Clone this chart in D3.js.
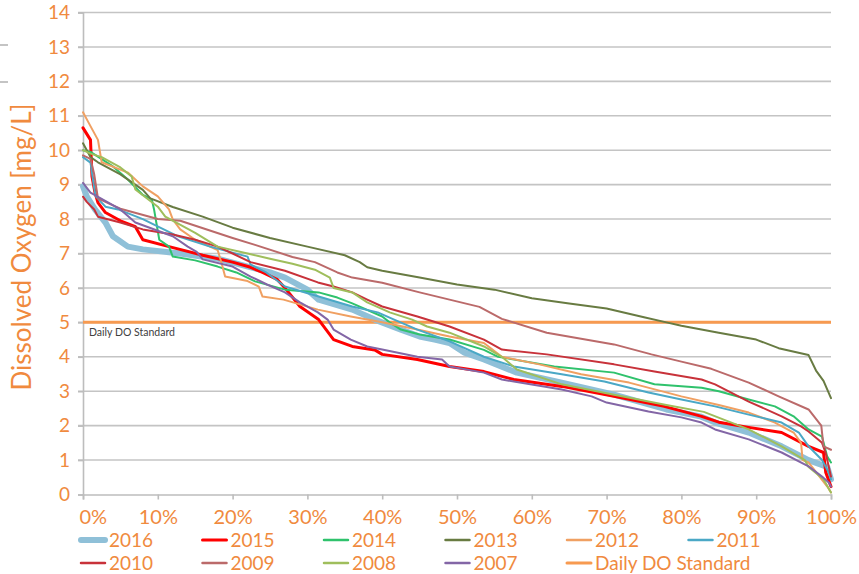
<!DOCTYPE html>
<html>
<head>
<meta charset="utf-8">
<script src="https://cdn.jsdelivr.net/npm/d3@7"></script>
<style>
  body { margin: 0; background: #fff; }
  svg { display: block; font-family: Lato, "Open Sans", sans-serif; }
</style>
</head>
<body>
<svg id="chart"></svg>
<script>
// series names, in legend order
var years = ["2016", "2015", "2014", "2013", "2012", "2011", "2010", "2009", "2008", "2007"];

// [exceedance %, DO mg/L]
var s2016 = [[0,8.95],[0.5,8.66],[1.6,8.28],[3,7.9],[4,7.5],[6,7.2],[8,7.12],[13,7.0],[18,6.85],[25,6.45],[27,6.3],[30,5.95],[31.5,5.66],[36,5.37],[39,5.08],[42.5,4.79],[45,4.59],[47,4.5],[49,4.4],[51,4.12],[53.6,3.92],[58,3.54],[64,3.25],[71,2.9],[78,2.47],[82.5,2.27],[84.5,2.09],[89,1.8],[93.4,1.4],[97,1.0],[99.5,0.8],[100,0.44]];
var s2015 = [[0,10.65],[1,10.3],[1.2,9.24],[1.6,8.77],[2,8.48],[3,8.19],[5,7.95],[7,7.78],[8,7.4],[11.5,7.2],[16,6.95],[20,6.75],[22.4,6.6],[24,6.45],[26,6.24],[27,6.0],[29,5.46],[31.5,5.08],[32.5,4.79],[33.5,4.5],[36,4.3],[39,4.2],[40,4.07],[44.7,3.92],[49,3.72],[53.6,3.57],[57.6,3.34],[64,3.14],[71,2.85],[77.7,2.56],[82.7,2.27],[85,2.1],[89,1.95],[93.4,1.8],[97,1.4],[99,1.22],[99.3,0.64],[100,0.23]];
var s2014 = [[0,10.0],[1,9.95],[4,9.53],[6,9.15],[8,8.7],[9.2,8.57],[9.5,8.28],[9.8,7.9],[10.2,7.4],[11.5,7.2],[12,6.91],[15,6.8],[18,6.62],[20.5,6.45],[23,6.19],[27,5.95],[31.5,5.87],[34,5.72],[36,5.55],[40,5.17],[41,5.0],[42.5,4.79],[45,4.65],[49,4.5],[53.6,4.2],[55.5,4.0],[63,3.72],[71,3.54],[76.4,3.2],[82.7,3.1],[85,3.0],[89,2.76],[92.5,2.56],[95,2.27],[97,1.89],[98.8,1.68],[99.5,1.1],[100,0.93]];
var s2013 = [[0,10.2],[1,9.8],[2,9.65],[5,9.3],[8,8.85],[9,8.6],[12,8.35],[16,8.07],[20,7.75],[25,7.45],[30,7.2],[35,6.95],[37,6.75],[38,6.6],[40,6.5],[45,6.3],[50,6.1],[55,5.95],[60,5.7],[65,5.55],[70,5.4],[75,5.15],[78,5.0],[80,4.9],[85,4.7],[90,4.5],[93,4.25],[97,4.05],[98,3.6],[99,3.3],[100,2.8]];
var s2012 = [[0,11.1],[1,10.7],[2,10.3],[2.5,9.65],[6,9.35],[8,8.95],[10,8.66],[11.5,8.28],[12,7.99],[13,7.7],[15,7.4],[18,7.1],[18.5,6.74],[19,6.33],[22,6.2],[23.5,6.04],[24,5.75],[26.8,5.66],[31.4,5.37],[35.8,5.17],[40,5.0],[44.7,4.79],[49,4.59],[53.6,4.4],[56,4.0],[61,3.78],[66.6,3.49],[73,3.25],[80,2.85],[85,2.6],[89,2.38],[92.5,2.09],[95,1.8],[96,1.5],[96.2,1.0],[97,0.93],[99.5,0.23],[100,0.06]];
var s2011 = [[0,9.8],[1,9.64],[1.5,8.9],[1.7,8.66],[3,8.36],[4.7,8.28],[8,8.0],[12.7,7.5],[17,7.2],[22,6.91],[22.4,6.68],[24.5,6.45],[27,6.04],[31.5,5.75],[36,5.46],[39.4,5.29],[41.6,5.08],[44.7,4.79],[49,4.45],[53.6,4.0],[57.6,3.72],[64,3.49],[69.7,3.28],[75.6,2.96],[80,2.76],[84.5,2.56],[89,2.32],[93.4,2.09],[95.7,1.8],[97,1.4],[98.8,1.0],[99.7,0.64],[100,0.44]];
var s2010 = [[0,8.65],[0.5,8.5],[1.5,8.28],[2,8.07],[5,7.9],[8,7.7],[12,7.55],[15,7.4],[18,7.2],[20,7.0],[22.4,6.75],[27,6.5],[31.4,6.16],[33.5,6.04],[36,5.87],[38,5.66],[40,5.46],[44.7,5.17],[49,4.88],[53.6,4.5],[56,4.21],[62,4.07],[71,3.78],[76.4,3.57],[82.7,3.34],[84.5,3.2],[89,2.7],[93.4,2.27],[96,1.98],[97,1.83],[98.8,1.5],[99.3,1.2],[100,0.52]];
var s2009 = [[0,9.85],[1,9.75],[1.5,9.3],[2,8.6],[4,8.4],[5,8.3],[10,8.0],[13,7.95],[20,7.45],[23,7.25],[28,6.9],[31,6.75],[34,6.45],[36,6.3],[40,6.15],[45,5.87],[49,5.66],[53,5.45],[56,5.1],[62,4.7],[71,4.36],[76,4.07],[80,3.86],[84,3.65],[89,3.25],[93,2.85],[97,2.47],[98.7,2.0],[99,1.4],[100,1.3]];
var s2008 = [[0,10.0],[1,9.9],[2.5,9.8],[5,9.5],[6.5,9.24],[7,8.86],[10,8.36],[11,8.07],[15,7.6],[18,7.2],[22,7.0],[25,6.85],[28,6.7],[31,6.53],[33,6.3],[33.5,6.0],[36,5.87],[38,5.58],[41,5.29],[44,5.08],[46,4.88],[49,4.7],[53.6,4.3],[56,4.0],[58,3.63],[64,3.2],[71,2.9],[78,2.6],[83,2.4],[89,1.89],[93.4,1.4],[96.5,1.0],[97,0.8],[99,0.44],[100,0.06]];
var s2007 = [[0,9.05],[1,8.77],[5,8.28],[7,7.9],[12,7.5],[14,7.2],[15.2,7.05],[16,6.83],[20,6.62],[22.4,6.33],[24.6,6.1],[27,5.87],[29,5.58],[31.4,5.29],[32.7,5.08],[33.5,4.79],[35.8,4.5],[38,4.3],[40,4.21],[44.7,4.0],[48,3.92],[49,3.72],[53.6,3.54],[56,3.34],[57.6,3.28],[64,3.05],[68,2.85],[70,2.67],[75.6,2.41],[80,2.24],[82.7,2.09],[84.5,1.89],[89,1.6],[93.4,1.22],[97,0.82],[98.8,0.52],[99.7,0.35],[100,0.23]];
var seriesData = [s2016, s2015, s2014, s2013, s2012, s2011, s2010, s2009, s2008, s2007];

var standardName = "Daily DO Standard";
var standardValue = 5;

var yTicks = [0,1,2,3,4,5,6,7,8,9,10,11,12,13,14];
var xTicks = [0,10,20,30,40,50,60,70,80,90,100];

// styles
var colors = ["#8fc0d8", "#ff0000", "#2fc26c", "#687b42", "#f0a062", "#4aa8c6", "#c8323a", "#bb6a6a", "#9fbe5c", "#8366a6"];
var widths = [6, 3, 2, 2, 2, 2, 2, 2, 2, 2];
var orange = "#f08a3e";
var stdColor = "#f79a50";

var W = 859, H = 574;
var svg = d3.select("#chart").attr("width", W).attr("height", H);

var x = d3.scaleLinear().domain([0, 100]).range([83, 831]);
var y = d3.scaleLinear().domain([0, 14]).range([494.5, 12.5]);

// stray marks at the left edge of the crop
svg.selectAll(".stray").data([45, 82]).enter().append("line")
  .attr("x1", 0).attr("x2", 8).attr("y1", function(d) { return d; }).attr("y2", function(d) { return d; })
  .attr("stroke", "#b0b0b0").attr("stroke-width", 1.5);

// gridlines
svg.append("g").selectAll("line").data(yTicks.slice(1)).enter().append("line")
  .attr("x1", 78).attr("x2", x(100))
  .attr("y1", function(d) { return y(d); }).attr("y2", function(d) { return y(d); })
  .attr("stroke", "#c4c4c4").attr("stroke-width", 1.6);

// axes
var yAxis = svg.append("g").attr("transform", "translate(" + x(0) + ",0)")
  .call(d3.axisLeft(y).tickValues(yTicks).tickSize(5).tickPadding(8).tickFormat(d3.format("d")));
var xAxis = svg.append("g").attr("transform", "translate(0," + y(0) + ")")
  .call(d3.axisBottom(x).tickValues(xTicks).tickSize(5).tickPadding(10).tickFormat(function(d) { return d + "%"; }));

[yAxis, xAxis].forEach(function(a) {
  a.select(".domain").attr("stroke", "#bdbdbd").attr("stroke-width", 1.6);
  a.selectAll(".tick line").attr("stroke", "#bdbdbd").attr("stroke-width", 1.6);
  a.selectAll("text").attr("fill", orange).style("font-family", "Lato, sans-serif");
});
yAxis.selectAll("text").style("font-size", "19px");
xAxis.selectAll("text").style("font-size", "20px");
xAxis.selectAll(".tick").filter(function(d) { return d === 0; }).select("text")
  .attr("text-anchor", "start").attr("x", -4);

// standard line
svg.append("line")
  .attr("x1", x(0)).attr("x2", x(100))
  .attr("y1", y(standardValue)).attr("y2", y(standardValue))
  .attr("stroke", stdColor).attr("stroke-width", 3);

// duration curves
var line = d3.line()
  .x(function(d) { return x(d[0]); })
  .y(function(d) { return y(d[1]); });

seriesData.forEach(function(s, i) {
  svg.append("path")
    .datum(s)
    .attr("d", line)
    .attr("fill", "none")
    .attr("stroke", colors[i])
    .attr("stroke-width", widths[i])
    .attr("stroke-linejoin", "round")
    .attr("stroke-linecap", "round");
});

svg.append("text")
  .attr("x", x(0) + 6).attr("y", y(standardValue) + 14)
  .attr("fill", "#404040")
  .style("font-size", "10.5px")
  .text(standardName);

// y title
svg.append("text")
  .attr("transform", "translate(31,247) rotate(-90)")
  .attr("text-anchor", "middle")
  .attr("fill", orange)
  .style("font-size", "26px")
  .text("Dissolved Oxygen [mg/L]");

// legend
var legendNames = years.concat([standardName]);
var legendColors = colors.concat([stdColor]);
var legendWidths = widths.map(function(w) { return w === 2 ? 2.5 : w; }).concat([3]);
var colX = d3.scaleLinear().domain([0, 1]).range([81, 202.5]);

var leg = svg.append("g").selectAll("g").data(legendNames).enter().append("g")
  .attr("transform", function(d, i) {
    return "translate(" + colX(i % 6) + "," + (i < 6 ? 540 : 563) + ")";
  });
leg.append("line")
  .attr("x1", 0).attr("x2", 24).attr("y1", 0).attr("y2", 0)
  .attr("stroke", function(d, i) { return legendColors[i]; })
  .attr("stroke-width", function(d, i) { return legendWidths[i]; })
  .attr("stroke-linecap", "round");
leg.append("text")
  .attr("x", 28).attr("dy", "0.35em")
  .attr("fill", orange)
  .style("font-size", "19px")
  .text(function(d) { return d; });
</script>
</body>
</html>
